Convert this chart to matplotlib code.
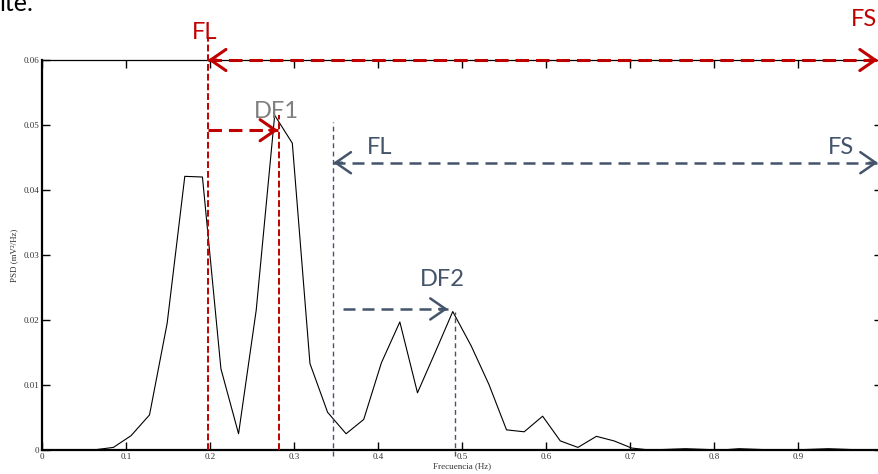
import matplotlib
matplotlib.use('Agg')
import matplotlib.pyplot as plt

# PSD spectrum
freq = [0.000, 0.021, 0.043, 0.064, 0.085, 0.106, 0.128, 0.149, 0.170, 0.191,
        0.213, 0.234, 0.255, 0.277, 0.298, 0.319, 0.340, 0.362, 0.383, 0.404,
        0.426, 0.447, 0.468, 0.489, 0.511, 0.532, 0.553, 0.574, 0.596, 0.617,
        0.638, 0.660, 0.681, 0.702, 0.723, 0.745, 0.766, 0.787, 0.809, 0.830,
        0.851, 0.872, 0.894, 0.915, 0.936, 0.957, 0.979, 1.000]
psd = [0.0, 0.0, 0.0, 0.00005, 0.0004, 0.0022, 0.0054, 0.0195, 0.0421, 0.0420,
       0.0125, 0.0025, 0.0215, 0.0515, 0.0472, 0.0133, 0.0058, 0.0025, 0.0047, 0.0134,
       0.0197, 0.0088, 0.0150, 0.0213, 0.0160, 0.0101, 0.0031, 0.0028, 0.0052, 0.0014,
       0.0004, 0.0021, 0.0014, 0.0003, 0.0000, 0.0001, 0.0002, 0.0001, 0.0000, 0.0002,
       0.0001, 0.0000, 0.0000, 0.0001, 0.0002, 0.0001, 0.0000, 0.0000]

xticks = [0, 0.1, 0.2, 0.3, 0.4, 0.5, 0.6, 0.7, 0.8, 0.9, 1.0]
xticklabels = ['0', '0.1', '0.2', '0.3', '0.4', '0.5', '0.6', '0.7', '0.8', '0.9', '']
yticks = [0, 0.01, 0.02, 0.03, 0.04, 0.05, 0.06]
yticklabels = ['0', '0.01', '0.02', '0.03', '0.04', '0.05', '0.06']

# band markers (Hz) and their levels
fl_red, df1_red, fs_end = 0.1976, 0.2825, 0.995
fl_blue, df2_blue = 0.347, 0.492
lvl_red_top, lvl_red_df1 = 0.060, 0.0492
lvl_blue_top, lvl_blue_df2 = 0.0442, 0.0217

RED = '#C00000'
BLUE = '#44546A'
GRAY = '#7F7F7F'
LABEL_FONT = ['Lato', 'DejaVu Sans']


def head(ax, tip, back, color, lw):
    # solid open arrowhead on the end of a dashed line
    ax.annotate('', xy=tip, xytext=back, annotation_clip=False, zorder=6,
                arrowprops=dict(arrowstyle='->,head_length=0.55,head_width=0.38',
                                mutation_scale=20, color=color, lw=lw,
                                shrinkA=0, shrinkB=0))


def dashed_arrow(ax, x0, x1, y, color, lw, dashes, left_head=False):
    ax.plot([x0, x1], [y, y], color=color, lw=lw, dashes=dashes, zorder=5,
            clip_on=False, solid_capstyle='butt', dash_capstyle='butt')
    head(ax, (x1, y), (x1 - 0.01, y), color, lw)
    if left_head:
        head(ax, (x0, y), (x0 + 0.01, y), color, lw)


def main():
    plt.rcParams['font.family'] = ['Liberation Serif', 'DejaVu Serif']
    fig = plt.figure(figsize=(8.79, 4.74), dpi=100)
    ax = fig.add_axes([42 / 879, 24 / 474, 840 / 879, 390 / 474])

    ax.plot(freq, psd, color='black', lw=0.8)

    ax.set_xlim(0, 1)
    ax.set_ylim(0, 0.06)
    ax.set_xticks(xticks)
    ax.set_xticklabels(xticklabels)
    ax.set_yticks(yticks)
    ax.set_yticklabels(yticklabels)
    ax.tick_params(direction='in', length=6, width=1, labelsize=6.5, pad=2,
                   top=True, right=True, colors='black', labelcolor='#333333')
    ax.spines['left'].set_linewidth(1.6)
    ax.spines['bottom'].set_linewidth(1.6)
    ax.spines['top'].set_linewidth(0.9)
    ax.spines['right'].set_linewidth(0.9)
    ax.set_xlabel('Frecuencia (Hz)', fontsize=6.5, labelpad=1, color='#333333')
    ax.set_ylabel('PSD (mV²/Hz)', fontsize=6.5, labelpad=4, color='#333333')

    # vertical guide lines
    ax.plot([fl_red, fl_red], [0, 0.0634], color=RED, lw=1.4, dashes=(3.5, 1.5), clip_on=False, zorder=4)
    ax.plot([df1_red, df1_red], [0, 0.0515], color=RED, lw=1.4, dashes=(3.5, 1.5), clip_on=False, zorder=4)
    ax.plot([fl_blue, fl_blue], [-0.0009, 0.0505], color=BLUE, lw=1.0, dashes=(3.5, 2.5), clip_on=False, zorder=4)
    ax.plot([df2_blue, df2_blue], [-0.0009, 0.0212], color=BLUE, lw=1.0, dashes=(3.5, 2.5), clip_on=False, zorder=4)

    # band arrows
    dashed_arrow(ax, fl_red, fs_end, lvl_red_top, RED, 2.2, (4.4, 2.3), left_head=True)
    dashed_arrow(ax, fl_red, 0.281, lvl_red_df1, RED, 2.2, (4.4, 2.3))
    dashed_arrow(ax, fl_blue, fs_end, lvl_blue_top, BLUE, 1.8, (4.8, 2.8), left_head=True)
    dashed_arrow(ax, 0.358, 0.483, lvl_blue_df2, BLUE, 1.8, (4.8, 2.8))

    txt = dict(ha='center', va='center', fontsize=17, family=LABEL_FONT, clip_on=False)
    ax.text(0.194, 0.0643, 'FL', color=RED, **txt)
    ax.text(0.979, 0.0662, 'FS', color=RED, **txt)
    ax.text(0.2786, 0.0520, 'DF1', color=GRAY, **txt)
    ax.text(0.402, 0.0466, 'FL', color=BLUE, **txt)
    ax.text(0.951, 0.0465, 'FS', color=BLUE, **txt)
    ax.text(0.476, 0.0262, 'DF2', color=BLUE, **txt)

    # tail of the surrounding document text, cut by the crop
    fig.text(0.0, 1 - 11 / 474, 'ite.', fontsize=18, family=LABEL_FONT,
             ha='left', va='baseline', color='black')

    fig.savefig('out.png', dpi=100)


if __name__ == '__main__':
    main()
